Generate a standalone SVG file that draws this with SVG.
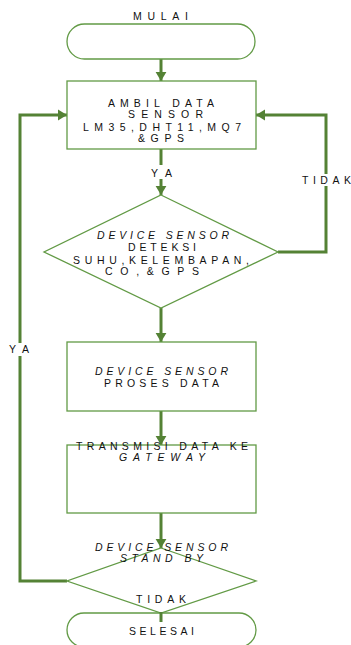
<svg xmlns="http://www.w3.org/2000/svg" width="351" height="645" viewBox="0 0 351 645">
<style>
.shape{fill:#fff;stroke:#629a45;stroke-width:1.3}
.conn{fill:none;stroke:#548235;stroke-width:3}
text{font-family:"Liberation Sans",Arial,sans-serif;font-size:10.5px;fill:#111;text-anchor:start}
.it{font-style:italic}
.bg{fill:#fff;stroke:none}
</style>
<defs>
<marker id="ah" markerUnits="userSpaceOnUse" viewBox="0 0 10 12" markerWidth="9" markerHeight="12" refX="10" refY="6" orient="auto">
<path d="M0,0 L10,6 L0,12 z" fill="#548235"/>
</marker>
</defs>
<g id="connectors">
<path class="conn" d="M161,59 V81" marker-end="url(#ah)"/>
<path class="conn" d="M161,149 V195" marker-end="url(#ah)"/>
<path class="conn" d="M278,252 H326 V115 H256" marker-end="url(#ah)"/>
<path class="conn" d="M161,308 V342" marker-end="url(#ah)"/>
<path class="conn" d="M161,411 V445" marker-end="url(#ah)"/>
<path class="conn" d="M161,513 V548" marker-end="url(#ah)"/>
<path class="conn" d="M67,581 H20 V115 H67" marker-end="url(#ah)"/>
<path class="conn" d="M161,598 V613" marker-end="url(#ah)"/>
<rect class="bg" x="149" y="165" width="25" height="14"/>
<text x="151" y="176.5" textLength="21" lengthAdjust="spacing">YA</text>
<rect class="bg" x="300" y="174" width="51" height="12"/>
<text x="302" y="184" textLength="49" lengthAdjust="spacing">TIDAK</text>
<rect class="bg" x="7" y="343" width="25" height="13"/>
<text x="9" y="353" textLength="20" lengthAdjust="spacing">YA</text>
</g>
<g id="mulai">
<rect class="shape" x="67" y="24" width="188" height="35" rx="17.5" ry="17.5"/>
<text x="133" y="20" textLength="55" lengthAdjust="spacing">MULAI</text>
</g>
<g id="ambil-data">
<rect class="shape" x="67" y="81" width="189" height="68"/>
<text x="108" y="106.5" textLength="106" lengthAdjust="spacing">AMBIL DATA</text>
<text x="128" y="118" textLength="75" lengthAdjust="spacing">SENSOR</text>
<text x="83" y="130.5" textLength="158" lengthAdjust="spacing">LM35,DHT11,MQ7</text>
<text x="138" y="141.5" textLength="46" lengthAdjust="spacing">&amp;GPS</text>
</g>
<g id="deteksi">
<path class="shape" d="M161,195 L278,252 L161,308 L44,252 Z"/>
<text class="it" x="97" y="239" textLength="132" lengthAdjust="spacing">DEVICE SENSOR</text>
<text x="128" y="251" textLength="68" lengthAdjust="spacing">DETEKSI</text>
<text x="73" y="263.5" textLength="176" lengthAdjust="spacing">SUHU,KELEMBAPAN,</text>
<text x="105" y="275" textLength="94" lengthAdjust="spacing">CO,&amp;GPS</text>
</g>
<g id="proses">
<rect class="shape" x="67" y="342" width="189" height="69"/>
<text class="it" x="95" y="374.5" textLength="133" lengthAdjust="spacing">DEVICE SENSOR</text>
<text x="104" y="387" textLength="115" lengthAdjust="spacing">PROSES DATA</text>
</g>
<g id="transmisi">
<rect class="shape" x="67" y="445" width="189" height="68"/>
<text x="76" y="449.5" textLength="172" lengthAdjust="spacing">TRANSMISI DATA KE</text>
<text class="it" x="119" y="460.5" textLength="86" lengthAdjust="spacing">GATEWAY</text>
</g>
<g id="standby">
<path class="shape" d="M161,548 L256,581 L161,613 L67,581 Z"/>
<text class="it" x="95" y="551" textLength="133" lengthAdjust="spacing">DEVICE SENSOR</text>
<text class="it" x="120" y="562" textLength="83" lengthAdjust="spacing">STAND BY</text>
<text x="136" y="603" textLength="50" lengthAdjust="spacing">TIDAK</text>
</g>
<g id="selesai">
<rect class="shape" x="67" y="613" width="189" height="34" rx="17" ry="17"/>
<path class="conn" d="M161,612 V622"/>
<text x="129" y="634.5" textLength="65" lengthAdjust="spacing">SELESAI</text>
</g>
</svg>
